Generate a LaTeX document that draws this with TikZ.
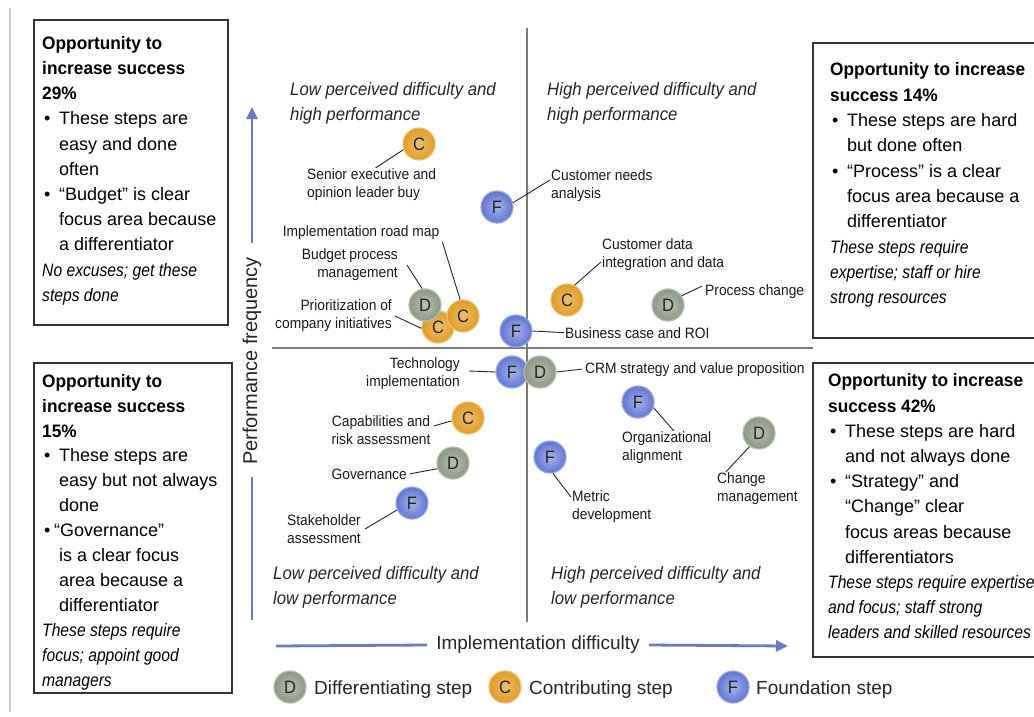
\documentclass[tikz,border=0pt]{standalone}
\usepackage{fontspec}
\setmainfont{Liberation Sans}
\newfontfamily\itfam{Liberation Sans}[FakeStretch=0.87]
\newfontfamily\qfam{Liberation Sans}[FakeStretch=0.93]
\newfontfamily\lfam{Liberation Sans}[FakeStretch=0.92]
\newfontfamily\hfam{Liberation Sans}[FakeStretch=0.96]
\usetikzlibrary{arrows.meta}
\definecolor{Dcol}{HTML}{8A9883}
\definecolor{Ccol}{HTML}{E19C25}
\definecolor{Fcol}{HTML}{6075D2}
\definecolor{axiscol}{HTML}{6A7BC4}
\definecolor{quadcol}{HTML}{7A7A7A}
\definecolor{framecol}{HTML}{333333}
\newcommand\hd[1]{{\hfam\bfseries #1}}
\newcommand\itl[1]{{\itfam\itshape #1}}
\newcommand\bul{\hspace*{2pt}\makebox[15pt][l]{•}}
\newcommand\ind{\hspace*{17pt}}
\tikzset{
  ball/.style={circle, minimum size=32pt, inner sep=0pt, text=black!85,
    font=\lfam\fontsize{18pt}{18pt}\selectfont, line width=1.2pt},
  dball/.style={ball, shading=radial, inner color=Dcol!60!white, outer color=Dcol, draw=Dcol!65!white},
  cball/.style={ball, shading=radial, inner color=Ccol!65!white, outer color=Ccol, draw=Ccol!65!white},
  fball/.style={ball, shading=radial, inner color=Fcol!55!white, outer color=Fcol, draw=Fcol!65!white},
  frame/.style={draw=framecol, line width=1.6pt},
  quad/.style={draw=quadcol, line width=2pt},
  axis/.style={draw=axiscol, line width=2.8pt},
  axtip/.style={-{Triangle[length=12pt,width=11pt]}},
  conn/.style={draw=black!85, line width=0.9pt},
  boxtxt/.style={inner sep=0pt, anchor=north west, align=left, text=black},
  lbl/.style={inner sep=1pt, font=\lfam\fontsize{15pt}{18pt}\selectfont, text=black!90},
  qtxt/.style={inner sep=0pt, anchor=north west, align=left, font=\qfam\itshape\fontsize{18pt}{25pt}\selectfont, text=black!85},
  legtxt/.style={inner sep=0pt, font=\fontsize{19pt}{22pt}\selectfont, text=black!85},
}
\begin{document}
\begin{tikzpicture}[x=1pt,y=-1pt]
\useasboundingbox (0,0) rectangle (1034,717);
\fill[white] (0,0) rectangle (1034,717);
% left border
\draw[line width=1.5pt, black!20] (10,8) -- (10,712);
% boxes
\draw[frame] (34,20) rectangle (228,325);
\draw[frame] (34,363) rectangle (232,693);
\draw[frame] (1034,43) -- (813,43) -- (813,338) -- (1034,338);
\draw[frame] (1034,363) -- (813,363) -- (813,657) -- (1034,657);
% box texts
\node[boxtxt, font=\fontsize{18pt}{25.2pt}\selectfont] (t1) at (42,31.5) {\strut\hd{Opportunity to}\\
\hd{increase success}\\
\hd{29\%}\\
\bul These steps are\\
\ind easy and done\\
\ind often\\
\bul “Budget” is clear\\
\ind focus area because\\
\ind a differentiator\\
\itl{No excuses; get these}\\
\itl{steps done}};
\node[boxtxt, font=\fontsize{18pt}{24.9pt}\selectfont] (t2) at (42,369.6) {\strut\hd{Opportunity to}\\
\hd{increase success}\\
\hd{15\%}\\
\bul These steps are\\
\ind easy but not always\\
\ind done\\
\hspace*{2pt}\makebox[10pt][l]{•}“Governance”\\
\ind is a clear focus\\
\ind area because a\\
\ind differentiator\\
\itl{These steps require}\\
\itl{focus; appoint good}\\
\itl{managers}};
\node[boxtxt, font=\fontsize{18pt}{25.3pt}\selectfont] (t3) at (830,58) {\strut\hd{Opportunity to increase}\\
\hd{success 14\%}\\
\bul These steps are hard\\
\ind but done often\\
\bul “Process” is a clear\\
\ind focus area because a\\
\ind differentiator\\
\itl{These steps require}\\
\itl{expertise; staff or hire}\\
\itl{strong resources}};
\node[boxtxt, font=\fontsize{18pt}{25.2pt}\selectfont] (t4) at (828,369.15) {\strut\hd{Opportunity to increase}\\
\hd{success 42\%}\\
\bul These steps are hard\\
\ind and not always done\\
\bul “Strategy” and\\
\ind “Change” clear\\
\ind focus areas because\\
\ind differentiators\\
\itl{These steps require expertise}\\
\itl{and focus; staff strong}\\
\itl{leaders and skilled resources}};
% quadrant lines
\draw[quad] (527,28) -- (527,622);
\draw[quad] (272,348) -- (813,348);
% quadrant labels
\node[qtxt] (qtl) at (290,77.5) {\strut Low perceived difficulty and\\high performance};
\node[qtxt] (qtr) at (547,77.5) {\strut High perceived difficulty and\\high performance};
\node[qtxt] (qbl) at (273,561.5) {\strut Low perceived difficulty and\\low performance};
\node[qtxt] (qbr) at (551,561.5) {\strut High perceived difficulty and\\low performance};
% axes
\node[inner sep=0pt, rotate=90, font=\fontsize{20pt}{22pt}\selectfont, text=black!85] (pf) at (252,361) {Performance frequency};
\coordinate (vtop) at (252,107);
\coordinate (vbot) at (252,620);
\draw[axis, axtip] ([yshift=14pt]pf.east) -- (vtop);
\draw[axis] ([yshift=-12pt]pf.west) -- (vbot);
\node[inner sep=0pt, font=\fontsize{19pt}{22pt}\selectfont, text=black!85] (iD) at (538,645) {Implementation difficulty};
\coordinate (hl) at (276,646);
\coordinate (hr) at (788,646);
\draw[axis] (hl) -- ([xshift=-9pt]iD.west);
\draw[axis, axtip] ([xshift=9pt]iD.east) -- (hr);
% labels
\node[lbl, anchor=west, align=left] (senL) at (306,185) {Senior executive and\\opinion leader buy};
\node[lbl, anchor=west, align=left] (cnL) at (550,186) {Customer needs\\analysis};
\node[lbl, anchor=base] (rmL) at (361,236) {Implementation road map};
\node[lbl, anchor=east, align=right] (bpL) at (399,265) {Budget process\\management};
\node[lbl, anchor=east, align=right] (prL) at (393,316) {Prioritization of\\company initiatives};
\node[lbl, anchor=west, align=left] (cdL) at (601,255) {Customer data\\integration and data};
\node[lbl, anchor=base west] (pcL) at (704,295) {Process change};
\node[lbl, anchor=base west] (bcL) at (564,338) {Business case and ROI};
\node[lbl, anchor=base west] (crL) at (584,373) {CRM strategy and value proposition};
\node[lbl, anchor=east, align=right] (tiL) at (461,374) {Technology\\implementation};
\node[lbl, anchor=center, align=center] (caL) at (381,430) {Capabilities and\\risk assessment};
\node[lbl, anchor=base east] (goL) at (408,479) {Governance};
\node[lbl, anchor=west, align=left] (shL) at (286,529) {Stakeholder\\assessment};
\node[lbl, anchor=west, align=left] (oaL) at (621,448) {Organizational\\alignment};
\node[lbl, anchor=west, align=left] (cmL) at (716,489) {Change\\management};
\node[lbl, anchor=west, align=left] (mdL) at (571,507) {Metric\\development};
% circles
\node[cball] (senC) at (419,144) {C};
\node[fball] (cnF) at (497,207) {F};
\node[cball] (prC) at (438,327) {C};
\node[dball] (bpD) at (425,305) {D};
\node[cball] (rmC) at (463,316) {C};
\node[cball] (cdC) at (567,300) {C};
\node[dball] (pcD) at (668,305) {D};
\node[fball] (bcF) at (516,331) {F};
\node[fball] (tiF) at (512,372) {F};
\node[dball] (crD) at (540,372) {D};
\node[cball] (caC) at (468,418) {C};
\node[dball] (goD) at (453,463) {D};
\node[fball] (shF) at (412,503) {F};
\node[fball] (oaF) at (638,402) {F};
\node[dball] (cmD) at (759,433) {D};
\node[fball] (mdF) at (550,457) {F};
% connectors
\draw[conn] ([xshift=4pt]senL.north) -- (senC.200);
\draw[conn] (cnF.15) -- ([yshift=6pt]cnL.west);
\draw[conn] ([xshift=2pt,yshift=-2pt]rmL.south east) -- (rmC.100);
\draw[conn] ([xshift=8pt]bpL.east) -- (bpD.100);
\draw[conn] ([xshift=2pt]prL.east) -- (prC.185);
\draw[conn] (cdC.63) -- ([yshift=-7pt]cdL.west);
\draw[conn] (pcD.34) -- ([xshift=-2pt,yshift=5pt]pcL.west);
\draw[conn] (bcF.east) -- (bcL.west);
\draw[conn] (crD.east) -- ([xshift=-2pt]crL.west);
\draw[conn] ([xshift=8pt,yshift=3pt]tiL.east) -- (tiF.west);
\draw[conn] ([xshift=2pt,yshift=4pt]caL.east) -- (caC.190);
\draw[conn] ([xshift=2pt]goL.east) -- (goD.200);
\draw[conn] ([xshift=3pt]shL.east) -- (shF.205);
\draw[conn] (oaF.-20) -- ([xshift=7pt]oaL.north);
\draw[conn] (cmD.235) -- ([xshift=10pt]cmL.north west);
\draw[conn] (mdF.-80) -- ([yshift=10pt]mdL.west);
% legend
\node[dball] (lgD) at (290,687) {D};
\node[legtxt, anchor=base west] (lgDt) at (314,694) {Differentiating step};
\node[cball] (lgC) at (505,687) {C};
\node[legtxt, anchor=base west] (lgCt) at (529,694) {Contributing step};
\node[fball] (lgF) at (733,687) {F};
\node[legtxt, anchor=base west] (lgFt) at (756,694) {Foundation step};
\end{tikzpicture}
\end{document}
